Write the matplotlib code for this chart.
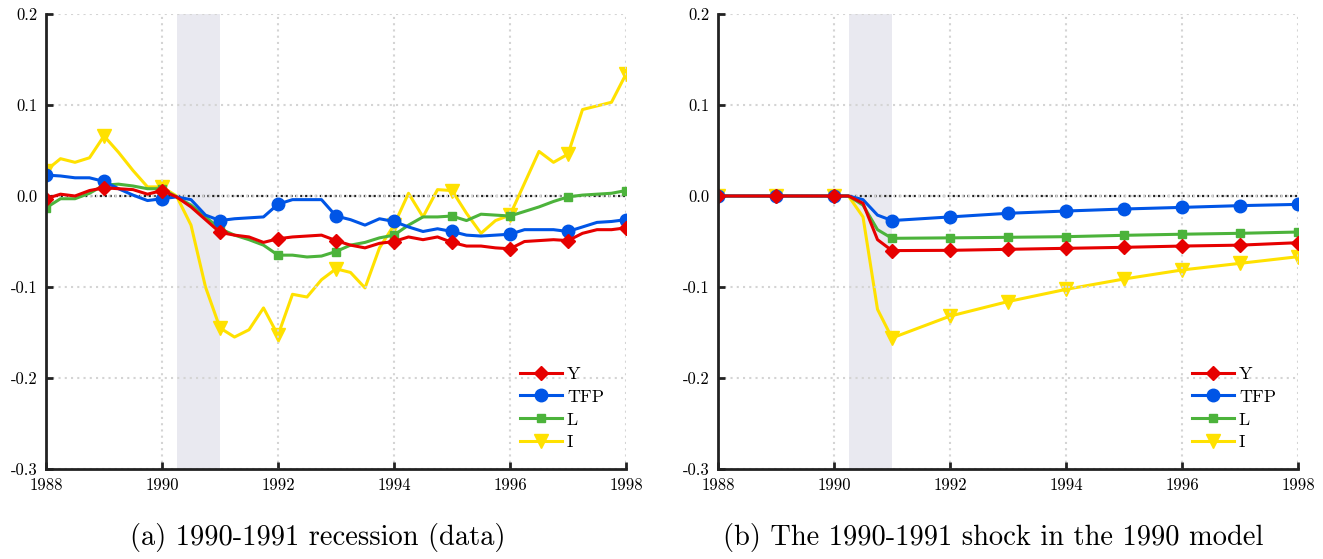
import numpy as np
import matplotlib
matplotlib.use("Agg")
import matplotlib.pyplot as plt

plt.rcParams['font.family'] = ['cmr10', 'DejaVu Serif']
plt.rcParams['mathtext.fontset'] = 'cm'
plt.rcParams['axes.unicode_minus'] = False

# ---- data (a): quarterly, 1988Q1 .. 1998Q1
quarters = 1988 + np.arange(41) / 4.0
data_Y = [-0.003, 0.002, 0.000, 0.006, 0.009, 0.008, 0.007, 0.002,
          0.006, -0.001, -0.012, -0.026, -0.040, -0.043, -0.045, -0.051,
          -0.047, -0.045, -0.044, -0.043, -0.049, -0.054, -0.057, -0.052,
          -0.050, -0.045, -0.048, -0.045, -0.051, -0.055, -0.055, -0.057,
          -0.058, -0.050, -0.049, -0.048, -0.049, -0.041, -0.037, -0.037,
          -0.035]
data_TFP = [0.023, 0.022, 0.020, 0.020, 0.016, 0.008, 0.001, -0.005,
            -0.003, -0.001, -0.004, -0.021, -0.027, -0.025, -0.024, -0.023,
            -0.009, -0.004, -0.004, -0.004, -0.022, -0.026, -0.032, -0.025,
            -0.028, -0.034, -0.039, -0.036, -0.039, -0.043, -0.044, -0.043,
            -0.042, -0.037, -0.037, -0.037, -0.039, -0.034, -0.029, -0.028,
            -0.026]
data_L = [-0.013, -0.003, -0.003, 0.003, 0.012, 0.013, 0.011, 0.008,
          0.008, -0.001, -0.010, -0.023, -0.036, -0.043, -0.048, -0.054,
          -0.065, -0.065, -0.067, -0.066, -0.061, -0.054, -0.051, -0.046,
          -0.043, -0.032, -0.023, -0.023, -0.022, -0.027, -0.020, -0.021,
          -0.022, -0.017, -0.012, -0.006, -0.001, 0.001, 0.002, 0.003,
          0.006]
data_I = [0.028, 0.041, 0.037, 0.042, 0.066, 0.048, 0.028, 0.010,
          0.010, 0.000, -0.032, -0.100, -0.145, -0.155, -0.147, -0.123,
          -0.153, -0.108, -0.111, -0.092, -0.080, -0.084, -0.101, -0.057,
          -0.032, 0.003, -0.023, 0.007, 0.006, -0.019, -0.041, -0.027,
          -0.021, 0.014, 0.049, 0.037, 0.046, 0.095, 0.099, 0.103,
          0.134]
marks_a = list(range(0, 41, 4))

# ---- model (b)
t_model = [1988, 1989, 1990, 1990.25, 1990.5, 1990.75, 1991,
           1992, 1993, 1994, 1995, 1996, 1997, 1998]
model_Y = [0, 0, 0, 0, -0.008, -0.048, -0.060,
           -0.0597, -0.0586, -0.0575, -0.0564, -0.055, -0.054, -0.0513]
model_TFP = [0, 0, 0, 0, -0.004, -0.021, -0.027,
             -0.023, -0.019, -0.0165, -0.0143, -0.0125, -0.0106, -0.0092]
model_L = [0, 0, 0, 0, -0.010, -0.037, -0.0465,
           -0.046, -0.0454, -0.0447, -0.0432, -0.042, -0.041, -0.0396]
model_I = [0, 0, 0, 0, -0.023, -0.1245, -0.156,
           -0.132, -0.116, -0.1026, -0.0912, -0.0813, -0.074, -0.0667]
marks_b = [0, 1, 2, 6, 7, 8, 9, 10, 11, 12, 13]

labels = ['Y', 'TFP', 'L', 'I']
colors = ['#e60000', '#0055e6', '#4cb33b', '#ffe100']
markers = ['D', 'o', 's', 'v']
msizes = [7.5, 9, 6, 10]

xticks = [1988, 1990, 1992, 1994, 1996, 1998]
yticks = [-0.3, -0.2, -0.1, 0.0, 0.1, 0.2]
ytick_labels = ['-0.3', '-0.2', '-0.1', '0.0', '0.1', '0.2']

captions = ['(a) 1990-1991 recession (data)',
            '(b) The 1990-1991 shock in the 1990 model']

fig = plt.figure(figsize=(13.23, 5.59), dpi=100)
ax1 = fig.add_axes([46 / 1323, 90 / 559, 580 / 1323, 455 / 559])
ax2 = fig.add_axes([718 / 1323, 90 / 559, 580 / 1323, 455 / 559])


def draw_panel(ax, x, series, marks):
    ax.axvspan(1990.25, 1991, color='#e9e9f0', zorder=0, lw=0)
    ax.plot([1988, 1998], [0, 0], color='#222222', lw=1.6,
            linestyle=(0, (1, 1.2)), zorder=1)
    handles = []
    for i in [3, 2, 1, 0]:
        h, = ax.plot(x, series[i], color=colors[i], lw=2.2,
                     marker=markers[i], markersize=msizes[i],
                     markevery=marks, label=labels[i], zorder=2 + (3 - i))
        handles.append(h)
    handles = handles[::-1]
    ax.set_xlim(1988, 1998)
    ax.set_ylim(-0.3, 0.2)
    ax.set_xticks(xticks)
    ax.set_xticklabels([str(v) for v in xticks])
    ax.set_yticks(yticks)
    ax.set_yticklabels(ytick_labels)
    ax.tick_params(direction='in', length=5, width=2, color='#222222',
                   labelsize=12, pad=6)
    for s in ['top', 'right']:
        ax.spines[s].set_visible(False)
    for s in ['left', 'bottom']:
        ax.spines[s].set_linewidth(2)
        ax.spines[s].set_color('#222222')
        ax.spines[s].set_zorder(20)
    ax.set_axisbelow(False)
    ax.grid(True, color='#d4d4d4', lw=1.5, linestyle=(0, (1, 2)), zorder=10)
    ax.legend(handles=handles, loc='lower right',
              bbox_to_anchor=(0.99, 0.005), frameon=False, fontsize=13,
              handlelength=2.3, handletextpad=0.3, labelspacing=0.4,
              numpoints=1)


draw_panel(ax1, quarters, [data_Y, data_TFP, data_L, data_I], marks_a)
draw_panel(ax2, t_model, [model_Y, model_TFP, model_L, model_I], marks_b)

fig.text(318 / 1323, 0.039, captions[0], ha='center', va='center', fontsize=20.5)
fig.text(993 / 1323, 0.039, captions[1], ha='center', va='center', fontsize=20.5)

fig.savefig('out.png', dpi=100)
